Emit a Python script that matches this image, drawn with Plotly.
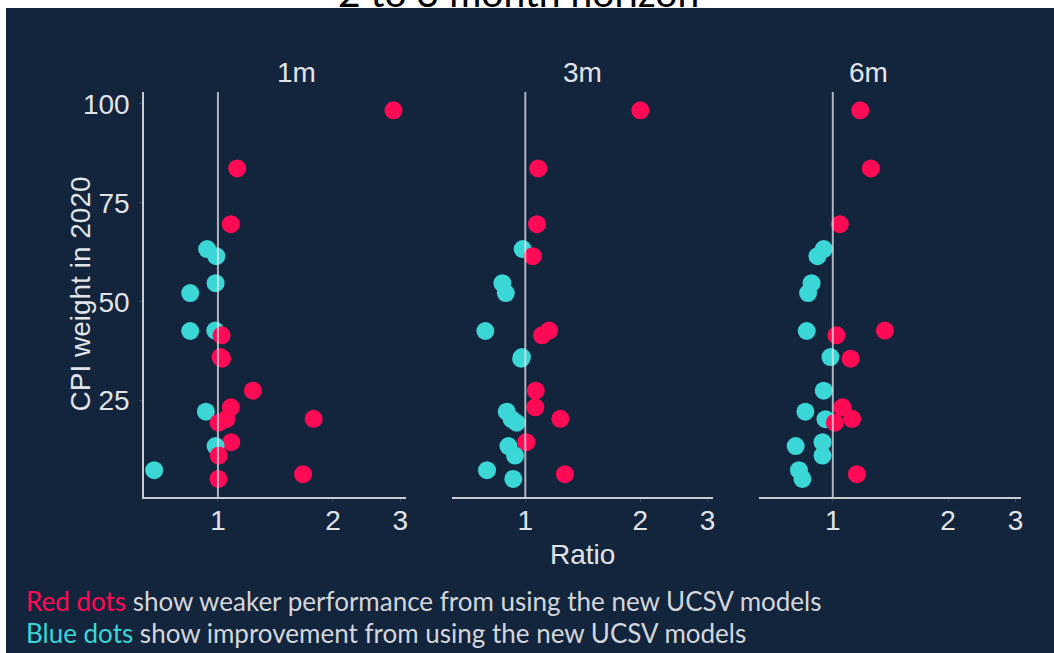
import plotly.graph_objects as go

# ── Data ─────────────────────────────────────────────────────
horizons = ["1m", "3m", "6m"]

cpi_weight = [98.4, 83.7, 69.6, 63.3, 61.5, 54.7, 52.2, 42.6, 42.7, 41.5, 36.0, 35.6,
              27.5, 23.3, 22.2, 20.4, 20.3, 19.4, 14.5, 13.5, 11.1, 7.4, 6.4, 5.2]

ratio_1m = [2.88, 1.123, 1.081, 0.937, 0.99, 0.986, 0.846, 0.846, 0.984, 1.022, 1.016, 1.025,
            1.235, 1.081, 0.930, 1.78, 1.051, 1.004, 1.083, 0.986, 1.005, 0.681, 1.670, 1.003]
ratio_3m = [2.0, 1.081, 1.073, 0.984, 1.046, 0.871, 0.889, 0.786, 1.154, 1.106, 0.98, 0.975,
            1.065, 1.062, 0.894, 1.235, 0.921, 0.949, 1.006, 0.903, 0.94, 0.794, 1.27, 0.930]
ratio_6m = [1.179, 1.257, 1.043, 0.947, 0.912, 0.88, 0.862, 0.855, 1.368, 1.022, 0.986, 1.113,
            0.947, 1.06, 0.848, 1.123, 0.957, 1.012, 0.94, 0.8, 0.94, 0.816, 1.156, 0.833]

x_ticks = [1, 2, 3]
y_ticks = [25, 50, 75, 100]

# ── Style ────────────────────────────────────────────────────
W, H = 1054, 653
NAVY = "#13243d"
RED = "#ff0a55"
CYAN = "#3bd6d6"
AXIS = "#c9cdd2"
TXT = "#e2e4e7"
FONT = "Liberation Sans, Arial, sans-serif"

x_domains = [(144.3, 405.7), (451.7, 713.0), (759.0, 1021.0)]
y_dom = [1 - 497.3 / H, 1 - 91.7 / H]
x_range = [-0.1927, 0.4914]
y_range = [0.55, 103.1]


def px_y(y):
    """pixel row (from top) -> paper y"""
    return 1 - y / H


fig = go.Figure()

for i, (name, ratios) in enumerate(zip(horizons, [ratio_1m, ratio_3m, ratio_6m])):
    suffix = "" if i == 0 else str(i + 1)
    fig.add_trace(go.Scatter(
        x=ratios, y=cpi_weight, mode="markers",
        marker=dict(size=18, color=[RED if r > 1 else CYAN for r in ratios], line=dict(width=0)),
        xaxis="x" + suffix, yaxis="y" + suffix, showlegend=False, name=name,
    ))
    d0, d1 = x_domains[i]
    fig.layout["xaxis" + suffix] = dict(
        domain=[d0 / W, d1 / W], type="log", range=x_range, automargin=False,
        tickvals=x_ticks, ticktext=[str(t) for t in x_ticks],
        showgrid=False, zeroline=False, showline=True, linecolor=AXIS, linewidth=2,
        ticks="outside", ticklen=3, tickcolor="#3a4556", ticklabelstandoff=-6,
        tickfont=dict(size=28, color=TXT, family=FONT),
        anchor="y" + suffix,
    )
    fig.layout["yaxis" + suffix] = dict(
        domain=y_dom, range=y_range, anchor="x" + suffix, automargin=False,
        tickvals=y_ticks, showgrid=False, zeroline=False,
        showline=(i == 0), linecolor=AXIS, linewidth=2,
        ticks="outside" if i == 0 else "", ticklen=3, tickcolor="#3a4556",
        showticklabels=(i == 0), ticklabelstandoff=4,
        tickfont=dict(size=28, color=TXT, family=FONT),
    )
    # reference line at ratio = 1
    fig.add_shape(type="line", xref="x" + suffix, yref="y" + suffix,
                  x0=1, x1=1, y0=y_range[0], y1=y_range[1], layer="above",
                  line=dict(color="rgba(225,228,232,0.75)", width=2))
    # facet strip label
    fig.add_annotation(text=name, xref="paper", yref="paper",
                       x=(d0 + d1) / 2 / W, y=px_y(72.5), yanchor="middle", showarrow=False,
                       font=dict(size=28, color=TXT, family=FONT))

# navy panel behind everything
fig.add_shape(type="rect", xref="paper", yref="paper", layer="below",
              x0=6 / W, x1=1.01, y0=-0.01, y1=px_y(8),
              fillcolor=NAVY, line=dict(width=0))

# cut-off slide title
fig.add_annotation(text="2 to 3 month horizon", xref="paper", yref="paper",
                   x=518 / W, y=px_y(17), xanchor="center", yanchor="bottom",
                   showarrow=False, font=dict(size=39, color="#000000", family="Lato"))

# axis titles
fig.add_annotation(text="CPI weight in 2020", xref="paper", yref="paper",
                   x=62 / W, y=px_y(294), textangle=-90, yanchor="middle", showarrow=False,
                   font=dict(size=28, color=TXT, family=FONT))
fig.add_annotation(text="Ratio", xref="paper", yref="paper",
                   x=582.4 / W, y=px_y(554), yanchor="middle", showarrow=False,
                   font=dict(size=28, color=TXT, family=FONT))

# caption
cap_font = dict(size=26, color="#d3d6da", family="Lato")
fig.add_annotation(text=f'<span style="color:{RED}">Red dots</span> show weaker performance from using the new UCSV models',
                   xref="paper", yref="paper", x=24 / W, y=px_y(601),
                   xanchor="left", yanchor="middle", showarrow=False, font=cap_font)
fig.add_annotation(text=f'<span style="color:{CYAN}">Blue dots</span> show improvement from using the new UCSV models',
                   xref="paper", yref="paper", x=24 / W, y=px_y(633),
                   xanchor="left", yanchor="middle", showarrow=False, font=cap_font)

fig.update_layout(
    width=W, height=H, margin=dict(l=0, r=0, t=0, b=0, autoexpand=False),
    paper_bgcolor="white", plot_bgcolor="rgba(0,0,0,0)",
    font=dict(family=FONT, color=TXT),
)

fig.write_html("out.html", config={"displayModeBar": False},
               post_script="document.body.style.margin='0';")
